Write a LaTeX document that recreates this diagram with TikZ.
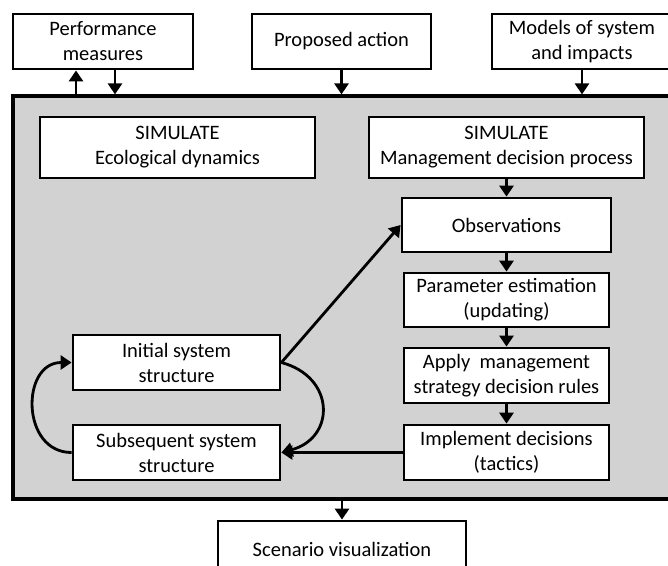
\documentclass[tikz,border=0pt]{standalone}
\usepackage{fontspec}
\setmainfont{Carlito}
\usetikzlibrary{arrows.meta,calc}
\definecolor{panel}{RGB}{210,210,210}
\tikzset{
  box/.style={draw=black,line width=2.8pt,fill=white,inner sep=0pt,align=center,
    font=\fontsize{20.5}{25}\selectfont},
  arr/.style={line width=2.8pt,-{Triangle[width=14pt,length=11pt]}},
}
\begin{document}
\begin{tikzpicture}[x=1pt,y=-1pt]
\useasboundingbox (0,0) rectangle (668,565);
\clip (0,0) rectangle (668,565);
% top boxes
\node[box,minimum width=180pt,minimum height=55pt] (perf) at (103,41.5) {Performance\\measures};
\node[box,minimum width=179pt,minimum height=55pt] (prop) at (341.5,41.5) {Proposed action};
\node[box,minimum width=180pt,minimum height=55pt] (models) at (582,41.5) {Models of system\\and impacts};
% panel
\node[draw=black,line width=3.2pt,fill=panel,inner sep=0pt,minimum width=667pt,minimum height=403pt] (panelbox) at (346.5,297.5) {};
% inner boxes
\node[box,minimum width=275pt,minimum height=61pt] (eco) at (177.5,147.5) {SIMULATE\\Ecological dynamics};
\node[box,minimum width=275pt,minimum height=61pt] (mgmt) at (506.5,147.5) {SIMULATE\\Management decision process};
\node[box,minimum width=209pt,minimum height=54pt] (obs) at (506.5,225) {Observations};
\node[box,minimum width=205pt,minimum height=54pt] (param) at (506.5,300) {Parameter estimation\\(updating)};
\node[box,minimum width=205pt,minimum height=55pt] (apply) at (506.5,375.5) {Apply~~management\\strategy decision rules};
\node[box,minimum width=205pt,minimum height=55pt] (impl) at (506.5,452.5) {Implement decisions\\(tactics)};
\node[box,minimum width=207pt,minimum height=55pt] (init) at (176.5,362.5) {Initial system\\structure};
\node[box,minimum width=207pt,minimum height=55pt] (subs) at (176.5,452.5) {Subsequent system\\structure};
% bottom box
\node[box,minimum width=248pt,minimum height=56pt] (scen) at (342,549) {Scenario visualization};
% arrows top
\coordinate (pu) at (76,0);
\coordinate (pd) at (115,0);
\draw[arr] (pu |- panelbox.north) -- (pu |- perf.south);
\draw[arr] (pd |- perf.south) -- (pd |- panelbox.north);
\draw[arr] (prop.south) -- (prop.south |- panelbox.north);
\draw[arr] (models.south) -- (models.south |- panelbox.north);
% chain
\draw[arr] (mgmt.south) -- (obs.north);
\draw[arr] (obs.south) -- (param.north);
\draw[arr] (param.south) -- (apply.north);
\draw[arr] (apply.south) -- (impl.north);
\draw[arr] (impl.west) -- (subs.east);
\draw[arr] (init.east) -- (obs.west);
\draw[arr] (init.east) to[out=-15,in=15,looseness=1.6] (subs.east);
\draw[arr] (subs.west) to[out=180,in=180,looseness=1.45] (init.west);
% bottom
\draw[arr] (scen.north |- panelbox.south) -- (scen.north);
\end{tikzpicture}
\end{document}
